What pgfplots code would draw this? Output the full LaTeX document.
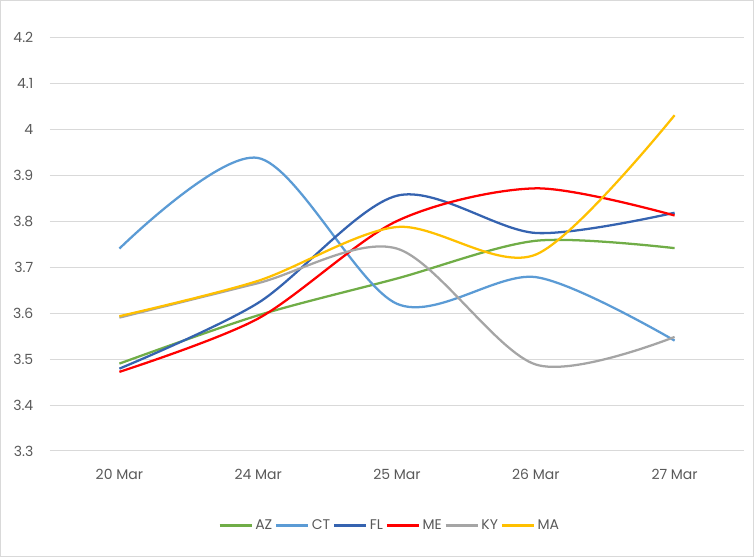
\documentclass[border=0pt]{standalone}
\usepackage{pgfplots}
\pgfplotsset{compat=1.18}
\usepackage{fontspec}
\setmainfont{Poppins}
\definecolor{cAZ}{HTML}{70AD47}
\definecolor{cCT}{HTML}{5B9BD5}
\definecolor{cFL}{HTML}{3563B0}
\definecolor{cME}{HTML}{FF0000}
\definecolor{cKY}{HTML}{A5A5A5}
\definecolor{cMA}{HTML}{FFC000}
\definecolor{gridc}{HTML}{D9D9D9}
\definecolor{txt}{HTML}{595959}
\begin{document}
\begin{tikzpicture}
\draw[draw=gridc, line width=0.75pt] (0.375pt,0.375pt) rectangle (565.125pt,417.375pt);
\begin{axis}[
  at={(37.5pt,79.5pt)}, anchor=south west,
  scale only axis, width=520.5pt, height=310.5pt,
  xmin=-0.5, xmax=4.5, ymin=3.3, ymax=4.2,
  xtick={0,1,2,3,4},
  xticklabels={20 Mar,24 Mar,25 Mar,26 Mar,27 Mar},
  ytick={3.3,3.4,...,4.21},
  yticklabel style={/pgf/number format/fixed, /pgf/number format/precision=1},
  /pgf/number format/assume math mode=true,
  ymajorgrids, grid style={gridc, line width=0.75pt},
  axis line style={draw=none},
  major tick length=0pt,
  tick label style={font=\fontsize{10.5}{12}\selectfont, text=txt},
  yticklabel style={xshift=-9pt},
  xticklabel style={yshift=-10pt},
  legend style={at={(0.49,-0.18)}, anchor=center, draw=none, fill=none,
    legend columns=6, font=\fontsize{10.5}{12}\selectfont, text=txt,
    /tikz/every even column/.append style={column sep=0pt},
    inner sep=0pt},
  legend image code/.code={\draw[#1, line width=1.7pt] (0pt,0pt) -- (24pt,0pt);},
  every axis plot/.append style={line width=1.7pt, smooth, tension=0.5, mark=none},
  clip=false,
]
\addplot[cAZ] coordinates {(0,3.49) (1,3.595) (2,3.675) (3,3.757) (4,3.741)};
\addlegendentry{AZ}
\addplot[cCT] coordinates {(0,3.74) (1,3.937) (2,3.62) (3,3.678) (4,3.54)};
\addlegendentry{CT}
\addplot[cFL] coordinates {(0,3.479) (1,3.622) (2,3.855) (3,3.774) (4,3.818)};
\addlegendentry{FL}
\addplot[cME] coordinates {(0,3.472) (1,3.588) (2,3.80) (3,3.871) (4,3.812)};
\addlegendentry{ME}
\addplot[cKY] coordinates {(0,3.59) (1,3.665) (2,3.74) (3,3.488) (4,3.548)};
\addlegendentry{KY}
\addplot[cMA] coordinates {(0,3.593) (1,3.67) (2,3.787) (3,3.727) (4,4.03)};
\addlegendentry{MA}
\end{axis}
\end{tikzpicture}
\end{document}
